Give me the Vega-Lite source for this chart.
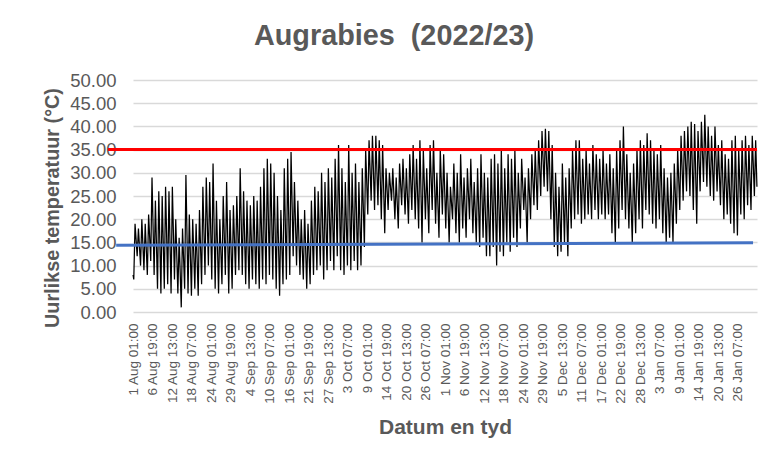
{
"$schema": "https://vega.github.io/schema/vega-lite/v6.json",
"width": 624, "height": 232,
"autosize": {"type": "none"},
"padding": {"left": 133, "top": 80, "right": 15, "bottom": 150},
"background": "white",
"title": {"text": "Augrabies\u00a0 (2022/23)", "fontSize": 28.8, "font": "Liberation Sans", "fontWeight": "bold", "color": "#595959", "anchor": "middle", "frame": "group", "dx": -51, "baseline": "alphabetic", "offset": -3},
"config": {"view": {"stroke": null}, "axis": {"labelFont": "Liberation Sans", "titleFont": "Liberation Sans", "labelColor": "#595959", "titleColor": "#595959", "labelOverlap": false}},
"encoding": {
"x": {"field": "t", "type": "temporal", "scale": {"type": "utc", "domain": [1659313800000, 1675211400000]},
 "axis": {"values": [1659315600000,1659812400000,1660309200000,1660806000000,1661302800000,1661799600000,1662296400000,1662793200000,1663290000000,1663786800000,1664283600000,1664780400000,1665277200000,1665774000000,1666270800000,1666767600000,1667264400000,1667761200000,1668258000000,1668754800000,1669251600000,1669748400000,1670245200000,1670742000000,1671238800000,1671735600000,1672232400000,1672729200000,1673226000000,1673722800000,1674219600000,1674716400000],
  "labelExpr": "utcFormat(datum.value, '%-d %b %H:%M')", "labelAngle": -90, "labelFontSize": 13.5, "labelPadding": 11,
  "ticks": false, "tickSize": 0, "domain": false, "grid": false, "labelOverlap": false, "labelBound": false, "labelFlush": false,
  "title": "Datum en tyd", "titleFontSize": 21, "titleFontWeight": "bold", "titleBaseline": "alphabetic", "titleY": 121}},
"y": {"field": "v", "type": "quantitative", "scale": {"domain": [0, 50]},
 "axis": {"values": [0,5,10,15,20,25,30,35,40,45,50], "format": ".2f", "labelFontSize": 18.5, "labelPadding": 17, "labelOverlap": false,
  "ticks": false, "tickSize": 0, "domain": false, "grid": true, "gridColor": "#d9d9d9", "gridWidth": 1.3,
  "title": "Uurlikse temperatuur (°C)", "titleFontSize": 19.8, "titleFontWeight": "bold", "titleAngle": 270, "titleAlign": "center", "titleBaseline": "middle", "titleX": -80.5, "titleY": 127.5}}
},
"layer": [
{
"data": {"values": [
{"t":"2022-08-01T01:00Z","v":8},
{"t":"2022-08-01T06:00Z","v":7},{"t":"2022-08-01T15:00Z","v":19},
{"t":"2022-08-02T06:00Z","v":12},{"t":"2022-08-02T15:00Z","v":18},
{"t":"2022-08-03T06:00Z","v":10},{"t":"2022-08-03T15:00Z","v":20},
{"t":"2022-08-04T06:00Z","v":9},{"t":"2022-08-04T15:00Z","v":19},
{"t":"2022-08-05T06:00Z","v":8},{"t":"2022-08-05T15:00Z","v":21},
{"t":"2022-08-06T06:00Z","v":11},{"t":"2022-08-06T15:00Z","v":29},
{"t":"2022-08-07T06:00Z","v":8},{"t":"2022-08-07T15:00Z","v":24},
{"t":"2022-08-08T06:00Z","v":5},{"t":"2022-08-08T15:00Z","v":26},
{"t":"2022-08-09T06:00Z","v":4},{"t":"2022-08-09T15:00Z","v":25},
{"t":"2022-08-10T06:00Z","v":5},{"t":"2022-08-10T15:00Z","v":27},
{"t":"2022-08-11T06:00Z","v":6},{"t":"2022-08-11T15:00Z","v":26},
{"t":"2022-08-12T06:00Z","v":4},{"t":"2022-08-12T15:00Z","v":27},
{"t":"2022-08-13T06:00Z","v":7},{"t":"2022-08-13T15:00Z","v":20},
{"t":"2022-08-14T06:00Z","v":4},{"t":"2022-08-14T15:00Z","v":16},
{"t":"2022-08-15T06:00Z","v":1},{"t":"2022-08-15T15:00Z","v":18},
{"t":"2022-08-16T06:00Z","v":5},{"t":"2022-08-16T15:00Z","v":29.5},
{"t":"2022-08-17T06:00Z","v":4},{"t":"2022-08-17T15:00Z","v":21},
{"t":"2022-08-18T06:00Z","v":3.5},{"t":"2022-08-18T15:00Z","v":20},
{"t":"2022-08-19T06:00Z","v":5},{"t":"2022-08-19T15:00Z","v":19},
{"t":"2022-08-20T06:00Z","v":3.5},{"t":"2022-08-20T15:00Z","v":22},
{"t":"2022-08-21T06:00Z","v":6},{"t":"2022-08-21T15:00Z","v":27},
{"t":"2022-08-22T06:00Z","v":8},{"t":"2022-08-22T15:00Z","v":29},
{"t":"2022-08-23T06:00Z","v":10},{"t":"2022-08-23T15:00Z","v":28},
{"t":"2022-08-24T06:00Z","v":7},{"t":"2022-08-24T15:00Z","v":32},
{"t":"2022-08-25T06:00Z","v":5},{"t":"2022-08-25T15:00Z","v":24},
{"t":"2022-08-26T06:00Z","v":4},{"t":"2022-08-26T15:00Z","v":20},
{"t":"2022-08-27T06:00Z","v":6},{"t":"2022-08-27T15:00Z","v":25},
{"t":"2022-08-28T06:00Z","v":8},{"t":"2022-08-28T15:00Z","v":28},
{"t":"2022-08-29T06:00Z","v":4},{"t":"2022-08-29T15:00Z","v":22},
{"t":"2022-08-30T06:00Z","v":5},{"t":"2022-08-30T15:00Z","v":23},
{"t":"2022-08-31T06:00Z","v":8},{"t":"2022-08-31T15:00Z","v":25},
{"t":"2022-09-01T06:00Z","v":9},{"t":"2022-09-01T15:00Z","v":31},
{"t":"2022-09-02T06:00Z","v":8},{"t":"2022-09-02T15:00Z","v":26},
{"t":"2022-09-03T06:00Z","v":6},{"t":"2022-09-03T15:00Z","v":24},
{"t":"2022-09-04T06:00Z","v":5},{"t":"2022-09-04T15:00Z","v":23},
{"t":"2022-09-05T06:00Z","v":7},{"t":"2022-09-05T15:00Z","v":25},
{"t":"2022-09-06T06:00Z","v":6},{"t":"2022-09-06T15:00Z","v":24},
{"t":"2022-09-07T06:00Z","v":5},{"t":"2022-09-07T15:00Z","v":27},
{"t":"2022-09-08T06:00Z","v":7},{"t":"2022-09-08T15:00Z","v":31},
{"t":"2022-09-09T06:00Z","v":6},{"t":"2022-09-09T15:00Z","v":33},
{"t":"2022-09-10T06:00Z","v":8},{"t":"2022-09-10T15:00Z","v":32},
{"t":"2022-09-11T06:00Z","v":7},{"t":"2022-09-11T15:00Z","v":30},
{"t":"2022-09-12T06:00Z","v":5},{"t":"2022-09-12T15:00Z","v":25},
{"t":"2022-09-13T06:00Z","v":3.5},{"t":"2022-09-13T15:00Z","v":22},
{"t":"2022-09-14T06:00Z","v":6},{"t":"2022-09-14T15:00Z","v":31},
{"t":"2022-09-15T06:00Z","v":7},{"t":"2022-09-15T15:00Z","v":33},
{"t":"2022-09-16T06:00Z","v":8},{"t":"2022-09-16T15:00Z","v":34.5},
{"t":"2022-09-17T06:00Z","v":12},{"t":"2022-09-17T15:00Z","v":28},
{"t":"2022-09-18T06:00Z","v":10},{"t":"2022-09-18T15:00Z","v":24},
{"t":"2022-09-19T06:00Z","v":8},{"t":"2022-09-19T15:00Z","v":20},
{"t":"2022-09-20T06:00Z","v":7},{"t":"2022-09-20T15:00Z","v":22},
{"t":"2022-09-21T06:00Z","v":5},{"t":"2022-09-21T15:00Z","v":19},
{"t":"2022-09-22T06:00Z","v":6},{"t":"2022-09-22T15:00Z","v":24},
{"t":"2022-09-23T06:00Z","v":8},{"t":"2022-09-23T15:00Z","v":27},
{"t":"2022-09-24T06:00Z","v":9},{"t":"2022-09-24T15:00Z","v":26},
{"t":"2022-09-25T06:00Z","v":10},{"t":"2022-09-25T15:00Z","v":30},
{"t":"2022-09-26T06:00Z","v":7},{"t":"2022-09-26T15:00Z","v":28},
{"t":"2022-09-27T06:00Z","v":9},{"t":"2022-09-27T15:00Z","v":31},
{"t":"2022-09-28T06:00Z","v":11},{"t":"2022-09-28T15:00Z","v":29},
{"t":"2022-09-29T06:00Z","v":9},{"t":"2022-09-29T15:00Z","v":33},
{"t":"2022-09-30T06:00Z","v":12},{"t":"2022-09-30T15:00Z","v":36},
{"t":"2022-10-01T06:00Z","v":9},{"t":"2022-10-01T15:00Z","v":31},
{"t":"2022-10-02T06:00Z","v":8},{"t":"2022-10-02T15:00Z","v":28},
{"t":"2022-10-03T06:00Z","v":10},{"t":"2022-10-03T15:00Z","v":36},
{"t":"2022-10-04T06:00Z","v":9},{"t":"2022-10-04T15:00Z","v":30},
{"t":"2022-10-05T06:00Z","v":11},{"t":"2022-10-05T15:00Z","v":32},
{"t":"2022-10-06T06:00Z","v":9},{"t":"2022-10-06T15:00Z","v":28},
{"t":"2022-10-07T06:00Z","v":10},{"t":"2022-10-07T15:00Z","v":31},
{"t":"2022-10-08T06:00Z","v":14},{"t":"2022-10-08T15:00Z","v":35},
{"t":"2022-10-09T06:00Z","v":21},{"t":"2022-10-09T15:00Z","v":37},
{"t":"2022-10-10T06:00Z","v":24},{"t":"2022-10-10T15:00Z","v":38},
{"t":"2022-10-11T06:00Z","v":22},{"t":"2022-10-11T15:00Z","v":38},
{"t":"2022-10-12T06:00Z","v":23},{"t":"2022-10-12T15:00Z","v":37},
{"t":"2022-10-13T06:00Z","v":20},{"t":"2022-10-13T15:00Z","v":36},
{"t":"2022-10-14T06:00Z","v":17},{"t":"2022-10-14T15:00Z","v":31},
{"t":"2022-10-15T06:00Z","v":22},{"t":"2022-10-15T15:00Z","v":30},
{"t":"2022-10-16T06:00Z","v":24},{"t":"2022-10-16T15:00Z","v":31},
{"t":"2022-10-17T06:00Z","v":20},{"t":"2022-10-17T15:00Z","v":29},
{"t":"2022-10-18T06:00Z","v":18},{"t":"2022-10-18T15:00Z","v":32},
{"t":"2022-10-19T06:00Z","v":23},{"t":"2022-10-19T15:00Z","v":33},
{"t":"2022-10-20T06:00Z","v":21},{"t":"2022-10-20T15:00Z","v":31},
{"t":"2022-10-21T06:00Z","v":19},{"t":"2022-10-21T15:00Z","v":34},
{"t":"2022-10-22T06:00Z","v":22},{"t":"2022-10-22T15:00Z","v":36},
{"t":"2022-10-23T06:00Z","v":20},{"t":"2022-10-23T15:00Z","v":33},
{"t":"2022-10-24T06:00Z","v":18},{"t":"2022-10-24T15:00Z","v":37},
{"t":"2022-10-25T06:00Z","v":15},{"t":"2022-10-25T15:00Z","v":35},
{"t":"2022-10-26T06:00Z","v":20},{"t":"2022-10-26T15:00Z","v":31},
{"t":"2022-10-27T06:00Z","v":17},{"t":"2022-10-27T15:00Z","v":36},
{"t":"2022-10-28T06:00Z","v":22},{"t":"2022-10-28T15:00Z","v":37},
{"t":"2022-10-29T06:00Z","v":19},{"t":"2022-10-29T15:00Z","v":30},
{"t":"2022-10-30T06:00Z","v":16},{"t":"2022-10-30T15:00Z","v":35},
{"t":"2022-10-31T06:00Z","v":21},{"t":"2022-10-31T15:00Z","v":34},
{"t":"2022-11-01T06:00Z","v":18},{"t":"2022-11-01T15:00Z","v":30},
{"t":"2022-11-02T06:00Z","v":15},{"t":"2022-11-02T15:00Z","v":27},
{"t":"2022-11-03T06:00Z","v":20},{"t":"2022-11-03T15:00Z","v":32},
{"t":"2022-11-04T06:00Z","v":17},{"t":"2022-11-04T15:00Z","v":30},
{"t":"2022-11-05T06:00Z","v":15},{"t":"2022-11-05T15:00Z","v":34},
{"t":"2022-11-06T06:00Z","v":18},{"t":"2022-11-06T15:00Z","v":29},
{"t":"2022-11-07T06:00Z","v":16},{"t":"2022-11-07T15:00Z","v":31},
{"t":"2022-11-08T06:00Z","v":20},{"t":"2022-11-08T15:00Z","v":33},
{"t":"2022-11-09T06:00Z","v":17},{"t":"2022-11-09T15:00Z","v":28},
{"t":"2022-11-10T06:00Z","v":15},{"t":"2022-11-10T15:00Z","v":31},
{"t":"2022-11-11T06:00Z","v":14},{"t":"2022-11-11T15:00Z","v":34},
{"t":"2022-11-12T06:00Z","v":16},{"t":"2022-11-12T15:00Z","v":30},
{"t":"2022-11-13T06:00Z","v":12},{"t":"2022-11-13T15:00Z","v":29},
{"t":"2022-11-14T06:00Z","v":12},{"t":"2022-11-14T15:00Z","v":33},
{"t":"2022-11-15T06:00Z","v":14},{"t":"2022-11-15T15:00Z","v":34},
{"t":"2022-11-16T06:00Z","v":10},{"t":"2022-11-16T15:00Z","v":32},
{"t":"2022-11-17T06:00Z","v":13},{"t":"2022-11-17T15:00Z","v":35},
{"t":"2022-11-18T06:00Z","v":12},{"t":"2022-11-18T15:00Z","v":31},
{"t":"2022-11-19T06:00Z","v":15},{"t":"2022-11-19T15:00Z","v":34},
{"t":"2022-11-20T06:00Z","v":13},{"t":"2022-11-20T15:00Z","v":33},
{"t":"2022-11-21T06:00Z","v":16},{"t":"2022-11-21T15:00Z","v":35},
{"t":"2022-11-22T06:00Z","v":14},{"t":"2022-11-22T15:00Z","v":30},
{"t":"2022-11-23T06:00Z","v":18},{"t":"2022-11-23T15:00Z","v":33},
{"t":"2022-11-24T06:00Z","v":22},{"t":"2022-11-24T15:00Z","v":29},
{"t":"2022-11-25T06:00Z","v":15},{"t":"2022-11-25T15:00Z","v":31},
{"t":"2022-11-26T06:00Z","v":20},{"t":"2022-11-26T15:00Z","v":34},
{"t":"2022-11-27T06:00Z","v":23},{"t":"2022-11-27T15:00Z","v":35},
{"t":"2022-11-28T06:00Z","v":22},{"t":"2022-11-28T15:00Z","v":37},
{"t":"2022-11-29T06:00Z","v":25},{"t":"2022-11-29T15:00Z","v":39},
{"t":"2022-11-30T06:00Z","v":27},{"t":"2022-11-30T15:00Z","v":39.5},
{"t":"2022-12-01T06:00Z","v":26},{"t":"2022-12-01T15:00Z","v":39},
{"t":"2022-12-02T06:00Z","v":20},{"t":"2022-12-02T15:00Z","v":36},
{"t":"2022-12-03T06:00Z","v":14},{"t":"2022-12-03T15:00Z","v":30},
{"t":"2022-12-04T06:00Z","v":12},{"t":"2022-12-04T15:00Z","v":27},
{"t":"2022-12-05T06:00Z","v":13},{"t":"2022-12-05T15:00Z","v":32},
{"t":"2022-12-06T06:00Z","v":15},{"t":"2022-12-06T15:00Z","v":29},
{"t":"2022-12-07T06:00Z","v":12},{"t":"2022-12-07T15:00Z","v":31},
{"t":"2022-12-08T06:00Z","v":18},{"t":"2022-12-08T15:00Z","v":35},
{"t":"2022-12-09T06:00Z","v":20},{"t":"2022-12-09T15:00Z","v":37},
{"t":"2022-12-10T06:00Z","v":21},{"t":"2022-12-10T15:00Z","v":37},
{"t":"2022-12-11T06:00Z","v":19},{"t":"2022-12-11T15:00Z","v":33},
{"t":"2022-12-12T06:00Z","v":20},{"t":"2022-12-12T15:00Z","v":35},
{"t":"2022-12-13T06:00Z","v":21},{"t":"2022-12-13T15:00Z","v":32},
{"t":"2022-12-14T06:00Z","v":20},{"t":"2022-12-14T15:00Z","v":36},
{"t":"2022-12-15T06:00Z","v":22},{"t":"2022-12-15T15:00Z","v":34},
{"t":"2022-12-16T06:00Z","v":20},{"t":"2022-12-16T15:00Z","v":33},
{"t":"2022-12-17T06:00Z","v":21},{"t":"2022-12-17T15:00Z","v":35},
{"t":"2022-12-18T06:00Z","v":20},{"t":"2022-12-18T15:00Z","v":32},
{"t":"2022-12-19T06:00Z","v":21},{"t":"2022-12-19T15:00Z","v":34},
{"t":"2022-12-20T06:00Z","v":17},{"t":"2022-12-20T15:00Z","v":31},
{"t":"2022-12-21T06:00Z","v":15},{"t":"2022-12-21T15:00Z","v":35},
{"t":"2022-12-22T06:00Z","v":18},{"t":"2022-12-22T15:00Z","v":37},
{"t":"2022-12-23T06:00Z","v":22},{"t":"2022-12-23T15:00Z","v":40},
{"t":"2022-12-24T06:00Z","v":20},{"t":"2022-12-24T15:00Z","v":34},
{"t":"2022-12-25T06:00Z","v":18},{"t":"2022-12-25T15:00Z","v":30},
{"t":"2022-12-26T06:00Z","v":15},{"t":"2022-12-26T15:00Z","v":32},
{"t":"2022-12-27T06:00Z","v":17},{"t":"2022-12-27T15:00Z","v":35},
{"t":"2022-12-28T06:00Z","v":20},{"t":"2022-12-28T15:00Z","v":37},
{"t":"2022-12-29T06:00Z","v":18},{"t":"2022-12-29T15:00Z","v":36},
{"t":"2022-12-30T06:00Z","v":22},{"t":"2022-12-30T15:00Z","v":38.5},
{"t":"2022-12-31T06:00Z","v":21},{"t":"2022-12-31T15:00Z","v":37},
{"t":"2023-01-01T06:00Z","v":19},{"t":"2023-01-01T15:00Z","v":35},
{"t":"2023-01-02T06:00Z","v":18},{"t":"2023-01-02T15:00Z","v":34},
{"t":"2023-01-03T06:00Z","v":20},{"t":"2023-01-03T15:00Z","v":36},
{"t":"2023-01-04T06:00Z","v":17},{"t":"2023-01-04T15:00Z","v":31},
{"t":"2023-01-05T06:00Z","v":15},{"t":"2023-01-05T15:00Z","v":29},
{"t":"2023-01-06T06:00Z","v":16},{"t":"2023-01-06T15:00Z","v":30},
{"t":"2023-01-07T06:00Z","v":15},{"t":"2023-01-07T15:00Z","v":32},
{"t":"2023-01-08T06:00Z","v":19},{"t":"2023-01-08T15:00Z","v":35},
{"t":"2023-01-09T06:00Z","v":22},{"t":"2023-01-09T15:00Z","v":38},
{"t":"2023-01-10T06:00Z","v":24},{"t":"2023-01-10T15:00Z","v":39},
{"t":"2023-01-11T06:00Z","v":26},{"t":"2023-01-11T15:00Z","v":40},
{"t":"2023-01-12T06:00Z","v":25},{"t":"2023-01-12T15:00Z","v":41},
{"t":"2023-01-13T06:00Z","v":22},{"t":"2023-01-13T15:00Z","v":40.5},
{"t":"2023-01-14T06:00Z","v":19},{"t":"2023-01-14T15:00Z","v":39},
{"t":"2023-01-15T06:00Z","v":26},{"t":"2023-01-15T15:00Z","v":41},
{"t":"2023-01-16T06:00Z","v":28},{"t":"2023-01-16T15:00Z","v":42.5},
{"t":"2023-01-17T06:00Z","v":27},{"t":"2023-01-17T15:00Z","v":40},
{"t":"2023-01-18T06:00Z","v":25},{"t":"2023-01-18T15:00Z","v":38},
{"t":"2023-01-19T06:00Z","v":24},{"t":"2023-01-19T15:00Z","v":40},
{"t":"2023-01-20T06:00Z","v":26},{"t":"2023-01-20T15:00Z","v":36},
{"t":"2023-01-21T06:00Z","v":23},{"t":"2023-01-21T15:00Z","v":37},
{"t":"2023-01-22T06:00Z","v":20},{"t":"2023-01-22T15:00Z","v":34},
{"t":"2023-01-23T06:00Z","v":21},{"t":"2023-01-23T15:00Z","v":33},
{"t":"2023-01-24T06:00Z","v":19},{"t":"2023-01-24T15:00Z","v":37},
{"t":"2023-01-25T06:00Z","v":17},{"t":"2023-01-25T15:00Z","v":38},
{"t":"2023-01-26T06:00Z","v":16.5},{"t":"2023-01-26T15:00Z","v":35},
{"t":"2023-01-27T06:00Z","v":21},{"t":"2023-01-27T15:00Z","v":37},
{"t":"2023-01-28T06:00Z","v":20},{"t":"2023-01-28T15:00Z","v":38},
{"t":"2023-01-29T06:00Z","v":23},{"t":"2023-01-29T15:00Z","v":36},
{"t":"2023-01-30T06:00Z","v":22},{"t":"2023-01-30T15:00Z","v":38},
{"t":"2023-01-31T06:00Z","v":25},{"t":"2023-01-31T15:00Z","v":37},
{"t":"2023-02-01T00:00Z","v":27}
]},
"mark": {"type": "line", "color": "black", "strokeWidth": 1.25}
},
{
"data": {"values": [{"t": "2022-07-24T15:30Z", "t2": "2023-02-01T00:30Z", "v": 35}]},
"mark": {"type": "rule", "color": "#FF0000", "strokeWidth": 3},
"encoding": {"x2": {"field": "t2"}}
},
{
"data": {"values": [{"t": "2022-07-27T01:30Z", "t2": "2023-01-30T20:30Z", "v": 14.4, "v2": 14.9}]},
"mark": {"type": "rule", "color": "#4472C4", "strokeWidth": 3},
"encoding": {"x2": {"field": "t2"}, "y2": {"field": "v2"}}
}
]
}
